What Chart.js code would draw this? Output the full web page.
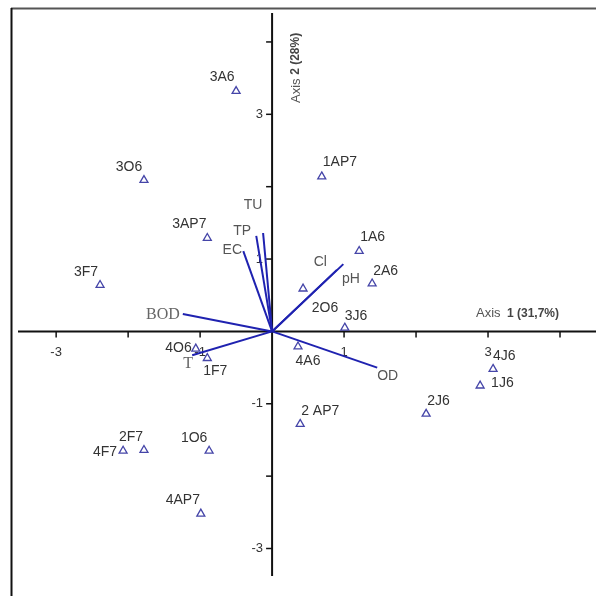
<!DOCTYPE html>
<html>
<head>
<meta charset="utf-8">
<script src="https://cdn.jsdelivr.net/npm/chart.js@4.4.1/dist/chart.umd.min.js"></script>
<style>
html,body{margin:0;padding:0;background:#fff;}
#wrap{width:596px;height:596px;}
</style>
</head>
<body>
<div id="wrap"><canvas id="c" width="596" height="596"></canvas></div>
<script>
// ---- data ----
const sampleNames = ["3A6","3O6","3AP7","3F7","1AP7","1A6","2A6","2O6","3J6","4A6","4J6","1J6","2J6","2 AP7","4O6","1F7","2F7","4F7","1O6","4AP7"];
const sampleX = [-0.50,-1.78,-0.90,-2.39,0.69,1.21,1.39,0.43,1.01,0.36,3.07,2.89,2.14,0.39,-1.06,-0.90,-1.78,-2.07,-0.875,-0.99];
const sampleY = [3.32,2.09,1.29,0.64,2.14,1.11,0.66,0.59,0.05,-0.21,-0.52,-0.75,-1.14,-1.28,-0.24,-0.37,-1.64,-1.65,-1.65,-2.52];

const varNames = ["TU","TP","EC","Cl","pH","BOD","T","OD"];
const varX = [-0.125,-0.22,-0.40,0.99,0.90,-1.24,-1.11,1.46];
const varY = [1.36,1.32,1.11,0.93,0.85,0.24,-0.33,-0.50];

const xTicks = [-3,-2,-1,1,2,3,4];
const yTicks = [4,3,2,1,-1,-2,-3];
const xTickLabels = ["-3","","-1","1","","3",""];
const yTickLabels = ["","3","","1","-1","","-3"];

const axis1Title = ["Axis", "1 (31,7%)"];
const axis2Title = ["Axis ", "2 (28%)"];

// ---- label layout (offsets in px from the mark) ----
const sampleLabelPos = {
 "3A6":[-14,-14,"center"],"3O6":[-15,-13,"center"],"3AP7":[-18,-14,"center"],"3F7":[-14,-13,"center"],
 "1AP7":[1,-14,"left"],"1A6":[1,-14,"left"],"2A6":[1,-13,"left"],"2O6":[22,19,"center"],
 "3J6":[0,-12,"left"],"4A6":[10,15,"center"],"4J6":[0,-13,"left"],"1J6":[11,-3,"left"],
 "2J6":[1,-13,"left"],"2 AP7":[1,-13,"left"],"4O6":[-4,-1,"right"],"1F7":[8,13,"center"],
 "2F7":[-13,-13,"center"],"4F7":[-6,1,"right"],"1O6":[-15,-13,"center"],"4AP7":[-18,-14,"center"]
};
const varLabelPos = {
 "TU":[-10,-28,"center"],"TP":[-14,-5,"center"],"EC":[-11,-1,"center"],"Cl":[-23,-2,"center"],
 "pH":[14,9,"center"],"BOD":[-3,1,"right"],"T":[-4,9,"center"],"OD":[0,9,"left"]
};

const sansFont = '"Liberation Sans", Arial, sans-serif';
const serifFont = '"Liberation Serif", "Times New Roman", serif';

const samplePoints = sampleX.map((x,i)=>({x:x,y:sampleY[i]}));
const vectorSets = varNames.map((n,i)=>({
  label:n, type:'scatter', showLine:true,
  data:[{x:0,y:0},{x:varX[i],y:varY[i]}],
  borderColor:'#1f22b0', borderWidth:2, pointRadius:0, order:2
}));

const biplotPlugin = {
  id:'biplot',
  beforeDatasetsDraw(chart){
    const ctx = chart.ctx, xs = chart.scales.x, ys = chart.scales.y;
    const ox = xs.getPixelForValue(0), oy = ys.getPixelForValue(0);
    ctx.save();
    // frame
    ctx.strokeStyle = '#555'; ctx.lineWidth = 2;
    ctx.beginPath(); ctx.moveTo(11,8.5); ctx.lineTo(596,8.5); ctx.stroke();
    ctx.strokeStyle = '#111';
    ctx.beginPath(); ctx.moveTo(11.5,8); ctx.lineTo(11.5,596); ctx.stroke();
    // axes
    ctx.strokeStyle = '#111'; ctx.lineWidth = 2;
    ctx.beginPath(); ctx.moveTo(xs.left, oy); ctx.lineTo(xs.right, oy); ctx.stroke();
    ctx.beginPath(); ctx.moveTo(ox, ys.top); ctx.lineTo(ox, ys.bottom); ctx.stroke();
    // ticks
    ctx.lineWidth = 1.5;
    xTicks.forEach((t,i)=>{
      const px = xs.getPixelForValue(t);
      ctx.beginPath(); ctx.moveTo(px, oy); ctx.lineTo(px, oy+6); ctx.stroke();
    });
    yTicks.forEach((t,i)=>{
      const py = ys.getPixelForValue(t);
      ctx.beginPath(); ctx.moveTo(ox-6, py); ctx.lineTo(ox, py); ctx.stroke();
    });
    // tick labels
    ctx.fillStyle = '#333'; ctx.font = '13px ' + sansFont; ctx.textBaseline = 'middle';
    ctx.textAlign = 'center';
    xTicks.forEach((t,i)=>{
      if(!xTickLabels[i]) return;
      ctx.fillText(xTickLabels[i], xs.getPixelForValue(t), oy+21);
    });
    ctx.textAlign = 'right';
    yTicks.forEach((t,i)=>{
      if(!yTickLabels[i]) return;
      ctx.fillText(yTickLabels[i], ox-9, ys.getPixelForValue(t));
    });
    // axis 1 title
    ctx.textAlign = 'left';
    ctx.fillStyle = '#555'; ctx.font = '13px ' + sansFont;
    ctx.fillText(axis1Title[0], 476, 313);
    ctx.font = 'bold 12px ' + sansFont; ctx.fillStyle = '#444';
    ctx.fillText(axis1Title[1], 507, 314);
    // axis 2 title (rotated)
    ctx.save();
    ctx.translate(296, 103); ctx.rotate(-Math.PI/2);
    ctx.fillStyle = '#555'; ctx.font = '13px ' + sansFont;
    ctx.fillText(axis2Title[0], 0, 0);
    const w = ctx.measureText(axis2Title[0]).width;
    ctx.font = 'bold 12px ' + sansFont; ctx.fillStyle = '#444';
    ctx.fillText(axis2Title[1], w, 0);
    ctx.restore();
    ctx.restore();
  },
  afterDatasetsDraw(chart){
    const ctx = chart.ctx, xs = chart.scales.x, ys = chart.scales.y;
    ctx.save();
    ctx.textBaseline = 'middle';
    // sample labels
    ctx.fillStyle = '#333'; ctx.font = '14px ' + sansFont;
    sampleNames.forEach((n,i)=>{
      const p = sampleLabelPos[n];
      ctx.textAlign = p[2];
      ctx.fillText(n, xs.getPixelForValue(sampleX[i]) + p[0], ys.getPixelForValue(sampleY[i]) + p[1]);
    });
    // variable labels
    varNames.forEach((n,i)=>{
      const p = varLabelPos[n];
      ctx.textAlign = p[2];
      if(n==='BOD' || n==='T'){ ctx.font = '16px ' + serifFont; ctx.fillStyle = '#666'; }
      else { ctx.font = '14px ' + sansFont; ctx.fillStyle = '#555'; }
      ctx.fillText(n, xs.getPixelForValue(varX[i]) + p[0], ys.getPixelForValue(varY[i]) + p[1]);
    });
    ctx.restore();
  }
};

new Chart(document.getElementById('c'), {
  type:'scatter',
  data:{
    datasets:[
      ...vectorSets,
      {label:'samples', data:samplePoints, pointStyle:'triangle', pointRadius:4.6,
       pointBorderWidth:1.3, borderColor:'#4545a8', backgroundColor:'#ffffff', order:1}
    ]
  },
  options:{
    responsive:false, animation:false, devicePixelRatio:1,
    layout:{autoPadding:false, padding:{left:18,right:0,top:13,bottom:20}},
    plugins:{legend:{display:false}, tooltip:{enabled:false}},
    scales:{
      x:{type:'linear', min:-3.53, max:4.5, display:false},
      y:{type:'linear', min:-3.38, max:4.40, display:false}
    }
  },
  plugins:[biplotPlugin]
});
</script>
</body>
</html>
